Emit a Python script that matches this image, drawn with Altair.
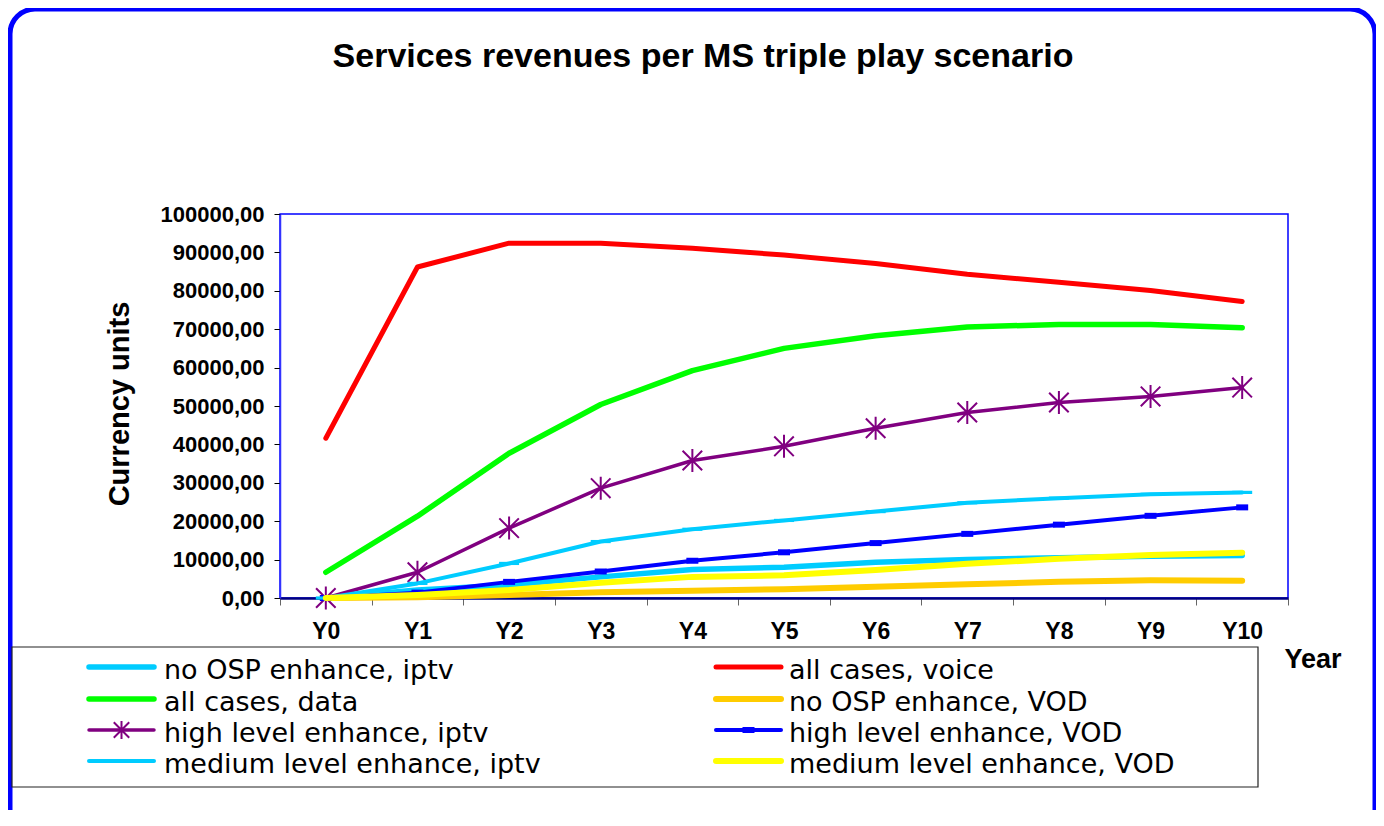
import altair as alt
import pandas as pd

# ---------------- data ----------------
years = ["Y0", "Y1", "Y2", "Y3", "Y4", "Y5", "Y6", "Y7", "Y8", "Y9", "Y10"]

no_osp_iptv = [0, 2100, 3400, 5500, 7400, 8000, 9300, 10000, 10500, 10900, 11100]
all_voice = [41600, 86200, 92400, 92400, 91100, 89300, 87100, 84300, 82200, 80100, 77200]
all_data = [6700, 21300, 37700, 50400, 59200, 65000, 68300, 70600, 71200, 71200, 70400]
no_osp_vod = [0, 200, 800, 1500, 1900, 2300, 2900, 3600, 4200, 4600, 4500]
high_iptv = [0, 6700, 18200, 28600, 35800, 39500, 44200, 48300, 50900, 52500, 54800]
high_vod = [0, 1400, 4200, 6900, 9700, 11900, 14300, 16700, 19100, 21400, 23600]
medium_iptv = [0, 3800, 9000, 14700, 17900, 20200, 22500, 24800, 26000, 27000, 27500]
medium_vod = [0, 800, 2100, 4000, 5500, 5900, 7300, 8900, 10200, 11200, 11800]

series_names = [
    "no OSP enhance, iptv", "all cases, voice",
    "all cases, data", "no OSP enhance, VOD",
    "high level enhance, iptv", "high level enhance, VOD",
    "medium level enhance, iptv", "medium level enhance, VOD",
]
series_values = [no_osp_iptv, all_voice, all_data, no_osp_vod,
                 high_iptv, high_vod, medium_iptv, medium_vod]
series_colors = ["#00CCFF", "#FF0000", "#00FF00", "#FFCC00",
                 "#800080", "#0000FF", "#00CCFF", "#FFFF00"]
series_widths = [5.5, 5, 5.5, 6, 3.5, 4, 4, 6]
series_markers = [None, None, None, None, "asterisk", "smalldash", "dash", None]

title_text = "Services revenues per MS triple play scenario"
y_title_text = "Currency units"
x_title_text = "Year"
y_ticks = [0, 10000, 20000, 30000, 40000, 50000, 60000, 70000, 80000, 90000, 100000]

# ---------------- styles ----------------
SHAPES = {
    "asterisk": ("M0,-1L0,1M-0.85,-0.85L0.85,0.85M-0.85,0.85L0.85,-0.85", 529, False),
    "dash": ("M-1,-0.16L1,-0.16L1,0.16L-1,0.16Z", 400, True),
    "smalldash": ("M-1,-0.5L1,-0.5L1,0.5L-1,0.5Z", 144, True),
}
LEG_SHAPE_SIZE = {"asterisk": 330, "dash": 400, "smalldash": 144}

W, H = 1008, 384
BOLD = "Liberation Sans"

x_scale = alt.Scale(type="band", domain=years, paddingInner=0, paddingOuter=0)
y_scale = alt.Scale(domain=[0, 100000], nice=False, zero=True)

x_axis = alt.Axis(
    title=None, labelAngle=0, tickBand="extent", labelFont=BOLD, labelFontWeight="bold",
    labelFontSize=23, labelColor="black", tickColor="#666666", tickSize=7,
    labelPadding=15, domainColor="#000080", domainWidth=2.5, grid=False,
)
y_axis = alt.Axis(
    title=None, values=y_ticks,
    labelExpr="replace(format(datum.value, '.2f'), '.', ',')",
    labelFont=BOLD, labelFontWeight="bold", labelFontSize=22, labelColor="black",
    tickColor="black", tickSize=6, labelPadding=10,
    domainColor="#3333FF", domainWidth=1.5, grid=False,
)

one = pd.DataFrame({"a": [0]})

layers = []

# outer rounded frame
layers.append(
    alt.Chart(one).mark_rect(cornerRadius=25, fillOpacity=0, stroke="#0000FF", strokeWidth=5)
    .encode(x=alt.value(-270), x2=alt.value(1095), y=alt.value(-205), y2=alt.value(640))
)

# data series
for name, vals, col, w, mk in zip(series_names, series_values, series_colors,
                                   series_widths, series_markers):
    df = pd.DataFrame({"year": years, "value": vals, "series": name})
    enc = dict(
        x=alt.X("year:N", sort=years, scale=x_scale, axis=x_axis, bandPosition=0.5),
        y=alt.Y("value:Q", scale=y_scale, axis=y_axis),
    )
    layers.append(
        alt.Chart(df).mark_line(color=col, strokeWidth=w, strokeCap="round", strokeJoin="round")
        .encode(**enc)
    )
    if mk:
        path, size, filled = SHAPES[mk]
        if filled:
            pm = alt.Chart(df).mark_point(shape=path, size=size, filled=True, fill=col,
                                          opacity=1, strokeWidth=0)
        else:
            pm = alt.Chart(df).mark_point(shape=path, size=size, filled=False, stroke=col,
                                          strokeWidth=2, opacity=1)
        layers.append(pm.encode(**enc))

# legend
leg_rows = [453, 485, 516, 547]
leg = pd.DataFrame({
    "label": series_names,
    "color": series_colors,
    "w": series_widths,
    "marker": [m if m else "" for m in series_markers],
})
leg["col"] = [i % 2 for i in range(len(leg))]
leg["row"] = [i // 2 for i in range(len(leg))]
leg["x1"] = [-191 if c == 0 else 436 for c in leg["col"]]
leg["x2"] = leg["x1"] + 65
leg["xm"] = leg["x1"] + 32.5
leg["yy"] = [leg_rows[r] for r in leg["row"]]
leg["tx"] = [-116 if c == 0 else 509 for c in leg["col"]]
leg["ty"] = leg["yy"] + 12

layers.append(
    alt.Chart(one).mark_rect(fill="white", stroke="#222222", strokeWidth=1.2)
    .encode(x=alt.value(-268), x2=alt.value(978), y=alt.value(433), y2=alt.value(573))
)
layers.append(
    alt.Chart(leg).mark_rule(strokeCap="round").encode(
        x=alt.X("x1:Q", scale=None), x2="x2:Q", y=alt.Y("yy:Q", scale=None),
        color=alt.Color("color:N", scale=None),
        strokeWidth=alt.StrokeWidth("w:Q", scale=None),
    )
)
for mk in ["asterisk", "dash", "smalldash"]:
    sub = leg[leg["marker"] == mk]
    path, _, filled = SHAPES[mk]
    col = sub["color"].iloc[0]
    if filled:
        m = alt.Chart(sub).mark_point(shape=path, size=LEG_SHAPE_SIZE[mk], filled=True,
                                      fill=col, opacity=1, strokeWidth=0)
    else:
        m = alt.Chart(sub).mark_point(shape=path, size=LEG_SHAPE_SIZE[mk], filled=False,
                                      stroke=col, strokeWidth=2, opacity=1)
    layers.append(m.encode(x=alt.X("xm:Q", scale=None), y=alt.Y("yy:Q", scale=None)))
layers.append(
    alt.Chart(leg).mark_text(align="left", baseline="alphabetic", font="DejaVu Sans",
                             fontSize=27, color="black")
    .encode(x=alt.X("tx:Q", scale=None), y=alt.Y("ty:Q", scale=None), text="label:N")
)

# titles
layers.append(
    alt.Chart(pd.DataFrame({"t": [title_text]})).mark_text(
        font=BOLD, fontWeight="bold", fontSize=34, align="center", baseline="alphabetic",
        color="black").encode(text="t:N", x=alt.value(423), y=alt.value(-147))
)
layers.append(
    alt.Chart(pd.DataFrame({"t": [y_title_text]})).mark_text(
        font=BOLD, fontWeight="bold", fontSize=29, align="center", baseline="middle",
        angle=270, color="black").encode(text="t:N", x=alt.value(-160), y=alt.value(190))
)
layers.append(
    alt.Chart(pd.DataFrame({"t": [x_title_text]})).mark_text(
        font=BOLD, fontWeight="bold", fontSize=27, align="center", baseline="alphabetic",
        color="black").encode(text="t:N", x=alt.value(1033), y=alt.value(454))
)

chart = alt.layer(*layers).properties(
    width=W, height=H,
    autosize=alt.AutoSizeParams(type="none"),
    padding={"left": 272, "top": 206, "right": 88, "bottom": 212},
    background="white",
).configure_view(stroke="#0000FF", strokeWidth=1.5)

chart.save("out.html", embed_options={"renderer": "svg", "actions": False})
